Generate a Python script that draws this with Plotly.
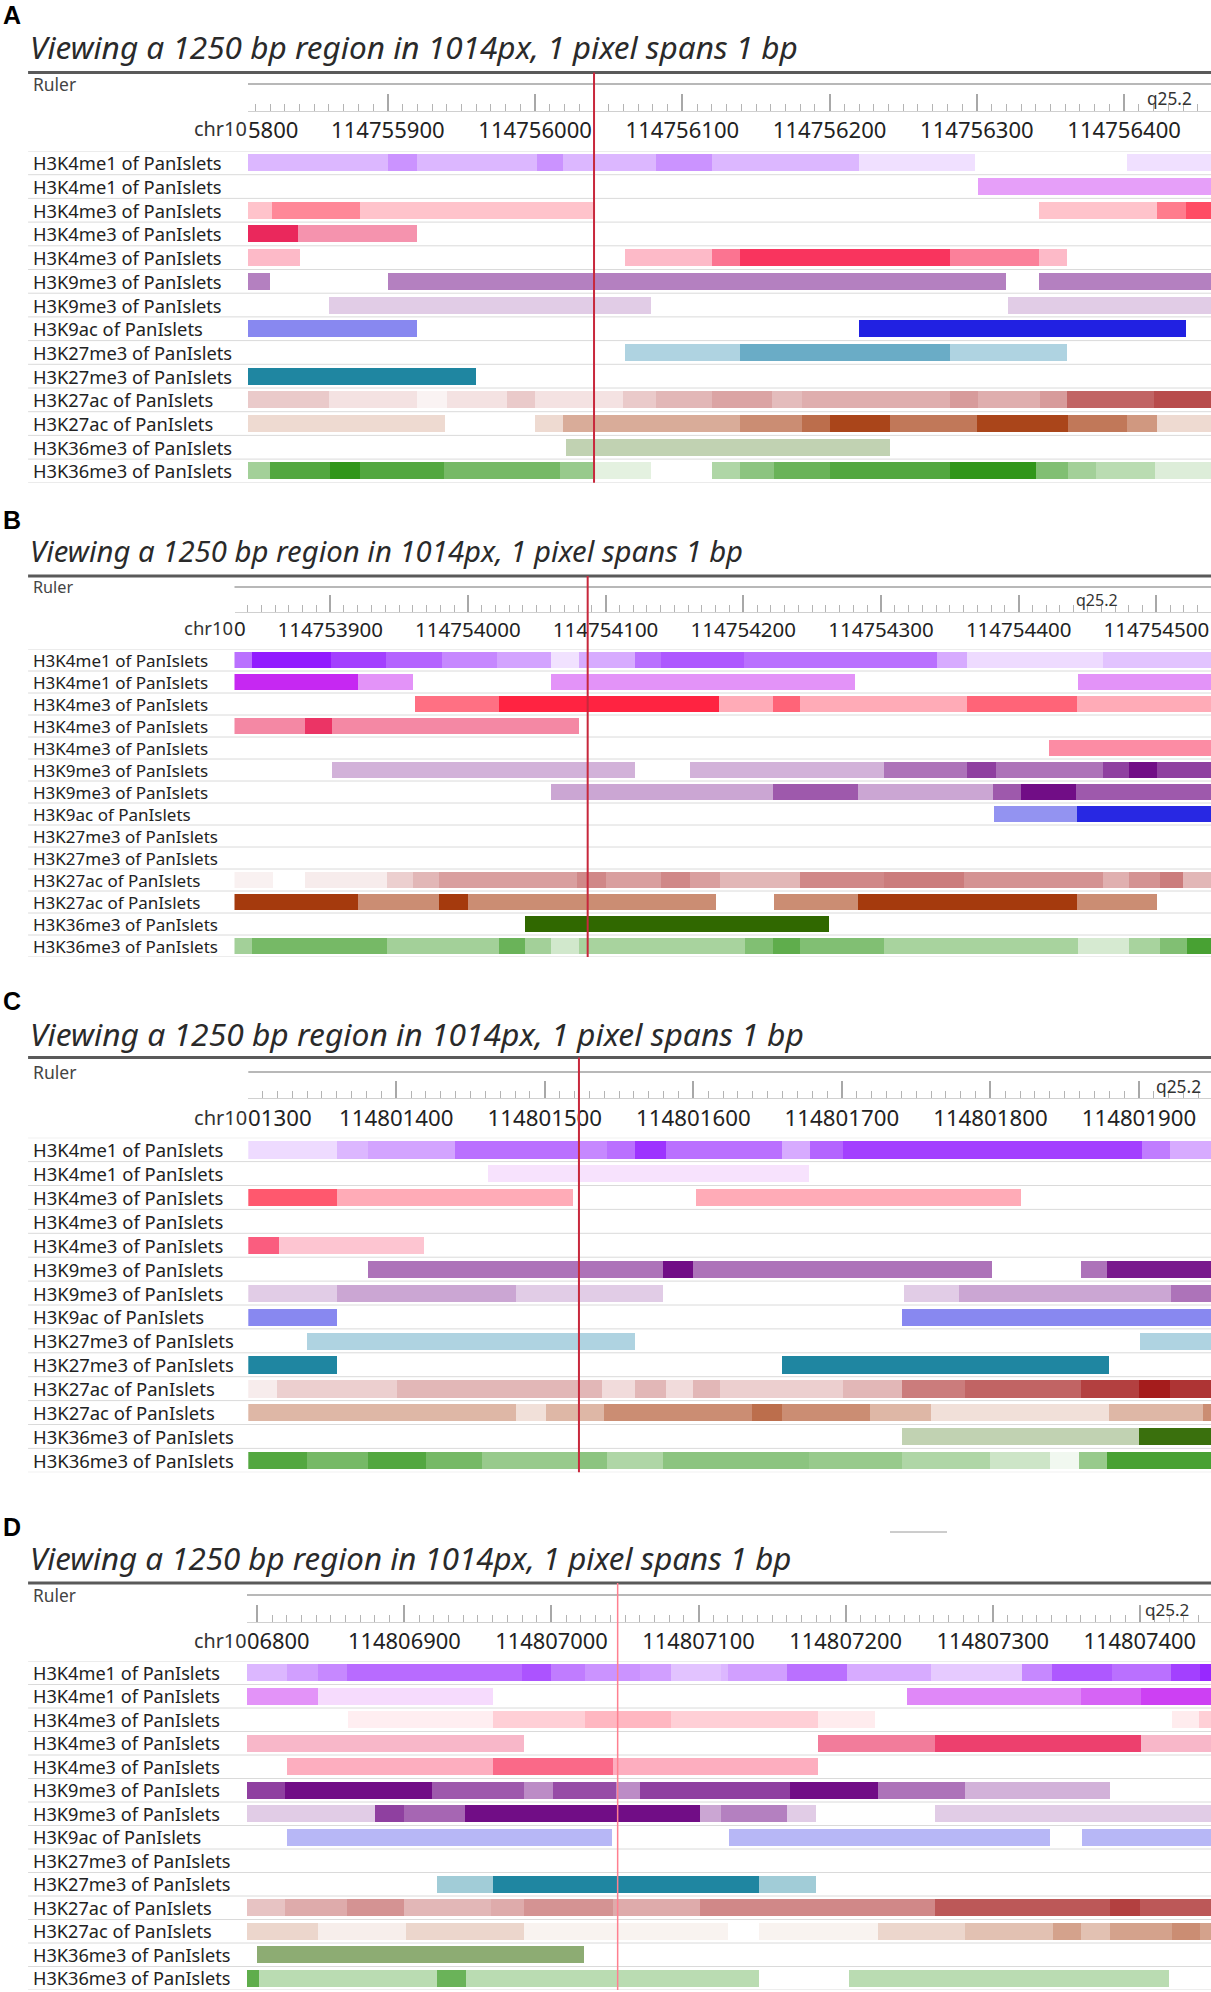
import plotly.graph_objects as go

W, H = 1211, 1992

TRACK_NAMES = (["H3K4me1 of PanIslets"] * 2 + ["H3K4me3 of PanIslets"] * 3
               + ["H3K9me3 of PanIslets"] * 2 + ["H3K9ac of PanIslets"]
               + ["H3K27me3 of PanIslets"] * 2 + ["H3K27ac of PanIslets"] * 2
               + ["H3K36me3 of PanIslets"] * 2)

# full-signal colour of each track
TRACK_COLORS = ["#8c10ff", "#c010f0", "#ff1030", "#e8104a", "#f81848",
                "#6a0080", "#6a0080", "#1010e0", "#1a80a8", "#13809c",
                "#a01010", "#a03000", "#306800", "#1a8a00"]

PANELS = ["A", "B", "C", "D"]
TITLE = "Viewing a 1250 bp region in 1014px, 1 pixel spans 1 bp"
WINDOW_START = [114755800, 114753800, 114801300, 114806800]   # chr10
FIRST_LABEL = ["5800", "0", "01300", "06800"]                 # clipped first ruler label
RED_LINE = [240, 287, 223, 245]      # bp offset from window start
CYTOBAND = [614, 640, 610, 602]      # where "q25.2" sits
CYTOBAND_NAME = "q25.2"

# segments per track: (start offset, end offset, signal 0..1)
A_TRACKS = [
    [(5, 100, .3), (100, 120, .45), (120, 201, .3), (201, 219, .45), (219, 282, .3),
     (282, 320, .45), (320, 420, .3), (420, 499, .13), (602, 659, .13)],
    [(501, 659, .4)],
    [(5, 21, .25), (21, 81, .5), (81, 239, .25), (542, 622, .25), (622, 642, .55), (642, 659, .75)],
    [(5, 39, .9), (39, 120, .45)],
    [(5, 40, .3), (261, 320, .3), (320, 339, .6), (339, 482, .88), (482, 542, .55), (542, 561, .3)],
    [(5, 20, .5), (100, 520, .5), (542, 659, .5)],
    [(60, 279, .2), (521, 659, .2)],
    [(5, 120, .5), (420, 642, .93)],
    [(261, 339, .35), (339, 482, .65), (482, 561, .35)],
    [(5, 160, .95)],
    [(5, 60, .22), (60, 120, .12), (120, 140, .05), (140, 181, .12), (181, 200, .22),
     (200, 260, .12), (260, 282, .22), (282, 320, .3), (320, 361, .38), (361, 381, .28),
     (381, 482, .34), (482, 501, .42), (501, 543, .34), (543, 561, .42), (561, 620, .65),
     (620, 659, .75)],
    [(5, 139, .18), (200, 219, .18), (219, 339, .4), (339, 381, .55), (381, 400, .7),
     (400, 441, .9), (441, 500, .65), (500, 562, .9), (562, 602, .65), (602, 622, .5),
     (622, 659, .18)],
    [(221, 441, .3)],
    [(5, 20, .4), (20, 61, .75), (61, 81, .9), (81, 138, .75), (138, 217, .6), (217, 240, .45),
     (240, 279, .12), (320, 339, .35), (339, 362, .5), (362, 400, .65), (400, 482, .75),
     (482, 540, .9), (540, 562, .55), (562, 581, .4), (581, 621, .3), (621, 659, .15)],
]

B_TRACKS = [
    [(30, 43, .6), (43, 100, .95), (100, 140, .8), (140, 181, .65), (181, 221, .5),
     (221, 260, .38), (260, 280, .12), (280, 321, .35), (321, 340, .6), (340, 400, .7),
     (400, 540, .6), (540, 562, .35), (562, 661, .15), (661, 740, .25)],
    [(30, 120, .9), (120, 160, .45), (260, 481, .45), (643, 740, .45)],
    [(161, 222, .6), (222, 382, .92), (382, 421, .35), (421, 441, .65), (441, 562, .35),
     (562, 642, .65), (642, 740, .35)],
    [(30, 81, .5), (81, 101, .85), (101, 280, .5)],
    [(622, 740, .5)],
    [(101, 321, .3), (361, 502, .3), (502, 562, .55), (562, 583, .75), (583, 661, .55),
     (661, 680, .75), (680, 700, .95), (700, 740, .75)],
    [(260, 421, .35), (421, 483, .65), (483, 581, .35), (581, 601, .65), (601, 641, .95),
     (641, 740, .65)],
    [(582, 642, .45), (642, 740, .9)],
    [],
    [],
    [(30, 58, .06), (81, 141, .08), (141, 160, .2), (160, 179, .3), (179, 279, .4),
     (279, 300, .5), (300, 340, .4), (340, 361, .5), (361, 383, .4), (383, 441, .3),
     (441, 502, .5), (502, 560, .55), (560, 661, .45), (661, 680, .33), (680, 702, .45),
     (702, 719, .55), (719, 740, .3)],
    [(30, 120, .95), (120, 179, .55), (179, 200, .95), (200, 380, .55), (422, 483, .55),
     (483, 642, .95), (642, 700, .55)],
    [(241, 462, 1.0)],
    [(30, 43, .4), (43, 141, .6), (141, 222, .4), (222, 241, .65), (241, 260, .4),
     (260, 280, .2), (280, 401, .38), (401, 421, .55), (421, 441, .7), (441, 502, .55),
     (502, 643, .38), (643, 680, .18), (680, 702, .38), (702, 722, .55), (722, 740, .8)],
]

C_TRACKS = [
    [(0, 60, .15), (60, 81, .3), (81, 140, .38), (140, 224, .6), (224, 242, .5), (242, 261, .6),
     (261, 282, .85), (282, 360, .6), (360, 379, .35), (379, 401, .65), (401, 602, .8),
     (602, 621, .55), (621, 649, .35)],
    [(162, 378, .12)],
    [(0, 60, .7), (60, 219, .35), (302, 521, .35)],
    [],
    [(0, 21, .7), (21, 119, .25)],
    [(81, 280, .55), (280, 300, .95), (300, 501, .55), (561, 579, .55), (579, 649, .9)],
    [(0, 60, .2), (60, 181, .35), (181, 280, .2), (442, 479, .2), (479, 622, .35), (622, 649, .55)],
    [(0, 60, .5), (441, 649, .5)],
    [(40, 261, .35), (601, 649, .35)],
    [(0, 60, .95), (360, 580, .95)],
    [(0, 20, .08), (20, 101, .2), (101, 239, .3), (239, 261, .15), (261, 282, .3), (282, 300, .15),
     (300, 318, .3), (318, 401, .2), (401, 441, .3), (441, 483, .55), (483, 561, .65),
     (561, 600, .8), (600, 621, .95), (621, 649, .85)],
    [(0, 181, .35), (181, 201, .15), (201, 240, .35), (240, 340, .55), (340, 360, .7),
     (360, 419, .55), (419, 460, .35), (460, 580, .15), (580, 643, .35), (643, 649, .55)],
    [(441, 600, .3), (600, 649, .95)],
    [(0, 40, .75), (40, 81, .6), (81, 120, .75), (120, 158, .6), (158, 224, .45), (224, 242, .5),
     (242, 280, .35), (280, 378, .5), (378, 441, .45), (441, 500, .35), (500, 540, .22),
     (540, 560, .06), (560, 579, .45), (579, 649, .8)],
]

D_TRACKS = [
    [(-7, 20, .3), (20, 41, .4), (41, 61, .5), (61, 180, .62), (180, 200, .72), (200, 223, .55),
     (223, 260, .45), (260, 281, .4), (281, 315, .25), (315, 320, .3), (320, 360, .4),
     (360, 401, .6), (401, 458, .35), (458, 520, .22), (520, 540, .5), (540, 581, .7),
     (581, 621, .6), (621, 641, .8), (641, 649, .9)],
    [(-7, 41, .45), (41, 160, .15), (442, 560, .5), (560, 601, .65), (601, 649, .8)],
    [(62, 160, .07), (160, 223, .2), (223, 281, .3), (281, 381, .2), (381, 420, .08),
     (622, 640, .08), (640, 649, .2)],
    [(-7, 181, .3), (381, 461, .55), (461, 601, .8), (601, 649, .3)],
    [(20, 160, .35), (160, 242, .65), (242, 381, .35)],
    [(-7, 19, .75), (19, 119, .95), (119, 181, .65), (181, 201, .45), (201, 244, .7),
     (244, 260, .45), (260, 362, .75), (362, 422, .95), (422, 481, .55), (481, 580, .3)],
    [(-7, 80, .2), (80, 100, .75), (100, 141, .6), (141, 301, .95), (301, 315, .35),
     (315, 360, .5), (360, 380, .2), (461, 649, .2)],
    [(20, 241, .3), (321, 539, .3), (561, 649, .3)],
    [],
    [(122, 160, .4), (160, 341, .95), (341, 380, .4)],
    [(-7, 19, .25), (19, 61, .35), (61, 100, .45), (100, 159, .3), (159, 181, .35),
     (181, 242, .45), (242, 301, .35), (301, 461, .5), (461, 580, .7), (580, 600, .8),
     (600, 649, .7)],
    [(-7, 41, .2), (41, 101, .08), (101, 181, .2), (181, 320, .06), (341, 422, .06),
     (422, 481, .2), (481, 541, .3), (541, 560, .45), (560, 580, .3), (580, 622, .45),
     (622, 641, .55), (641, 649, .45)],
    [(0, 222, .55)],
    [(-7, 1, .7), (1, 122, .3), (122, 142, .65), (142, 341, .3), (402, 620, .3)],
]

ALL_TRACKS = [A_TRACKS, B_TRACKS, C_TRACKS, D_TRACKS]

# page geometry of each panel, in pixels; fs = text scale of the panel
GEO = [
    dict(letter=15, title=47, rule=72.5, ruler=84, base=111, label=128.5, top=151, row=23.7,
         x0=248, view=(5, 659), fs=1.077),
    dict(letter=520, title=551, rule=576, ruler=587, base=611.7, label=628, top=649, row=22.0,
         x0=234.5, view=(30.5, 739.7), fs=1.0),
    dict(letter=1001, title=1033, rule=1057.5, ruler=1072, base=1098, label=1117, top=1137.7, row=23.9,
         x0=248.3, view=(0.4, 648.5), fs=1.086),
    dict(letter=1527, title=1558, rule=1583, ruler=1595, base=1622, label=1640, top=1661, row=23.5,
         x0=247, view=(-7, 648.4), fs=1.068),
]

FONT = "Noto Sans"
LEFT = 30.5 / W


def py(px):
    return 1 - px / H


def shade(hexcol, s):
    r, g, b = (int(hexcol[i:i + 2], 16) for i in (1, 3, 5))
    mix = lambda c: round(255 - (255 - c) * s)
    return f"rgb({mix(r)},{mix(g)},{mix(b)})"


fig = go.Figure()
shapes = []
annotations = []

for p, (letter, tracks, start, geo) in enumerate(zip(PANELS, ALL_TRACKS, WINDOW_START, GEO)):
    n = p + 1
    xa, ya = ("x" if n == 1 else f"x{n}"), ("y" if n == 1 else f"y{n}")
    bottom = geo["top"] + geo["row"] * len(tracks)
    fs = geo["fs"]
    v0, v1 = geo["view"]

    base, width, rows, colors = [], [], [], []
    for k, segs in enumerate(tracks):
        for s0, s1, sig in segs:
            base.append(start + s0)
            width.append(s1 - s0)
            rows.append(k)
            colors.append(shade(TRACK_COLORS[k], sig))
    fig.add_trace(go.Bar(orientation="h", base=base, x=width, y=rows, width=0.72,
                         marker=dict(color=colors, line=dict(width=0)),
                         xaxis=xa, yaxis=ya, showlegend=False, hoverinfo="skip"))

    # major ruler ticks every 100 bp; the one hugging the left edge is shown clipped
    tickvals = list(range(start, start + int(v1) + 1, 100))
    ticktext = [str(t) if t - start >= v0 + 60 else "" for t in tickvals]

    fig.update_layout({
        f"xaxis{'' if n == 1 else n}": dict(
            domain=[geo["x0"] / W, 1], range=[start + v0, start + v1],
            anchor="free", position=py(geo["base"]), showgrid=False, zeroline=False,
            showline=True, linecolor="#d0d0d0", linewidth=1, automargin=False,
            ticks="inside", ticklen=17, tickwidth=1.5, tickcolor="#a8a8a8",
            tickmode="array", tickvals=tickvals, ticktext=ticktext,
            ticklabeloverflow="allow", ticklabelstandoff=0,
            tickfont=dict(family=FONT, size=20.5 * fs, color="#222"),
            minor=dict(ticks="inside", ticklen=7, tickwidth=1, tickcolor="#b4b4b4",
                       tickmode="linear", tick0=start, dtick=10, showgrid=False),
            fixedrange=True),
        f"yaxis{'' if n == 1 else n}": dict(
            domain=[py(bottom), py(geo["top"])], range=[len(tracks) - 0.5, -0.5],
            anchor=xa, visible=False, automargin=False, fixedrange=True),
    })

    # header
    annotations += [
        dict(text=f"<b>{letter}</b>", x=0.001, y=py(geo["letter"]), xref="paper", yref="paper",
             xanchor="left", yanchor="middle", showarrow=False,
             font=dict(family="Liberation Sans", size=25, color="#000")),
        dict(text=f"<i>{TITLE}</i>", x=LEFT - 0.002, y=py(geo["title"]), xref="paper", yref="paper",
             xanchor="left", yanchor="middle", showarrow=False,
             font=dict(family=FONT, size=29.3 * fs, color="#2a2a2a")),
        dict(text="Ruler", x=LEFT, y=py(geo["ruler"]), xref="paper", yref="paper",
             xanchor="left", yanchor="middle", showarrow=False,
             font=dict(family=FONT, size=16.2 * fs, color="#444")),
        dict(text="chr10", x=geo["x0"] / W, y=py(geo["label"]), xref="paper", yref="paper",
             xanchor="right", yanchor="middle", showarrow=False, xshift=1,
             font=dict(family=FONT, size=18.5 * fs, color="#333")),
        dict(text=FIRST_LABEL[p], x=start + v0, y=py(geo["label"]), xref=xa, yref="paper",
             xanchor="left", yanchor="middle", showarrow=False, xshift=-2,
             font=dict(family=FONT, size=20.5 * fs, color="#222")),
        dict(text=CYTOBAND_NAME, x=start + CYTOBAND[p], y=py((geo["ruler"] + geo["base"]) / 2 + 1),
             xref=xa, yref="paper", xanchor="left", yanchor="middle", showarrow=False,
             font=dict(family=FONT, size=16 * fs, color="#333")),
    ]
    for k, name in enumerate(TRACK_NAMES):
        annotations.append(dict(text=name, x=LEFT, y=k, xref="paper", yref=ya,
                                xanchor="left", yanchor="middle", showarrow=False,
                                font=dict(family=FONT, size=17.0 * fs, color="#222")))

    shapes += [
        dict(type="line", xref="paper", yref="paper", x0=LEFT - 0.002, x1=1,
             y0=py(geo["rule"]), y1=py(geo["rule"]), line=dict(color="#5a5a5a", width=3)),
        dict(type="line", xref="paper", yref="paper", x0=geo["x0"] / W, x1=1,
             y0=py(geo["ruler"]), y1=py(geo["ruler"]), line=dict(color="#a0a0a0", width=1.5)),
    ]
    for k in range(len(tracks) + 1):
        shapes.append(dict(type="line", xref="paper", yref=ya, x0=LEFT - 0.002, x1=1,
                           y0=k - 0.5, y1=k - 0.5, line=dict(color="#dadada", width=1)))
    red = "#ff8090" if letter == "D" else "#c8283c"
    shapes.append(dict(type="line", xref=xa, yref="paper", x0=start + RED_LINE[p], x1=start + RED_LINE[p],
                       y0=py(bottom), y1=py(geo["rule"]),
                       line=dict(color=red, width=1.5 if letter == "D" else 2)))

# small stray grey stroke above panel D
shapes.append(dict(type="line", xref="paper", yref="paper", x0=890 / W, x1=947 / W,
                   y0=py(1532), y1=py(1532), line=dict(color="#9a9a9a", width=1)))

fig.update_layout(width=W, height=H, margin=dict(l=0, r=0, t=0, b=0, pad=0, autoexpand=False),
                  plot_bgcolor="white", paper_bgcolor="white", bargap=0,
                  barmode="overlay", shapes=shapes, annotations=annotations)

fig.write_html("out.html", config={"displayModeBar": False},
               post_script="document.body.style.margin='0';document.documentElement.style.overflow='hidden';")
